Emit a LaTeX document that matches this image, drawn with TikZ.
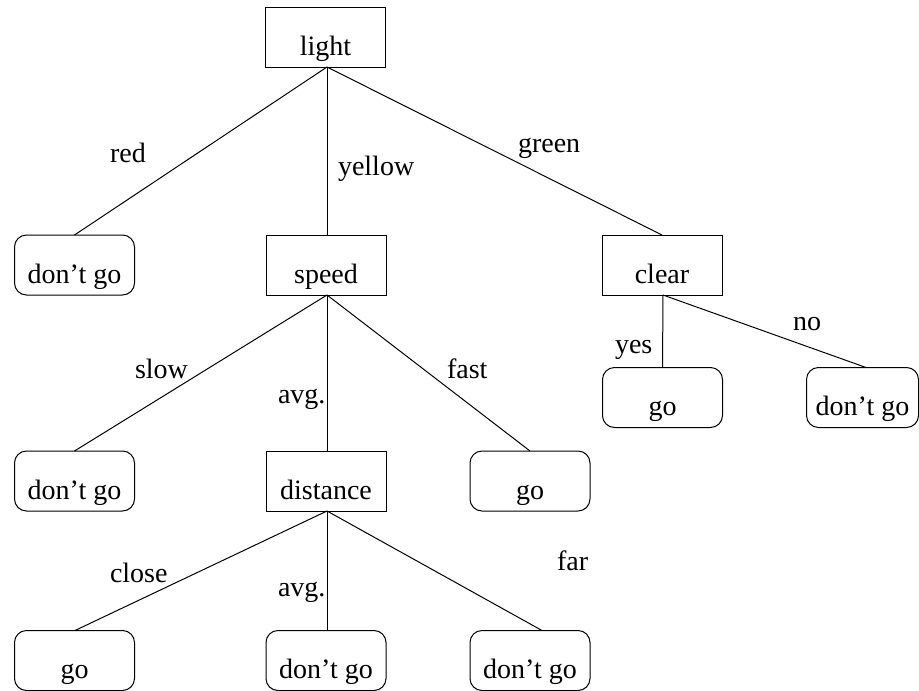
\documentclass[tikz,border=0pt]{standalone}
\usepackage{fontspec}
\setmainfont{Liberation Serif}
\begin{document}
\begin{tikzpicture}[x=1pt,y=-1pt,
  every node/.style={font=\fontsize{28}{30}\selectfont, inner sep=0pt, outer sep=0pt},
  testbox/.style={draw, line width=1pt, minimum width=120pt, minimum height=60pt},
  leafbox/.style={draw, line width=1pt, rounded corners=12pt, minimum width=120pt, minimum height=60pt},
  boxtext/.style={anchor=base},
  edgelab/.style={anchor=base west},
  conn/.style={line width=1pt}]
\useasboundingbox (0,0) rectangle (919,691);
% decision boxes
\node[testbox] (light) at (325.5,37) {};
\node[boxtext] at ([yshift=12pt]light.south) {light};
\node[testbox] (speed) at (326,265) {};
\node[boxtext] at ([yshift=12pt]speed.south) {speed};
\node[testbox] (clear) at (662,265) {};
\node[boxtext] at ([yshift=12pt]clear.south) {clear};
\node[testbox] (dist) at (326,481) {};
\node[boxtext] at ([yshift=12pt]dist.south) {distance};
% leaves
\node[leafbox] (l1) at (74.5,265) {};
\node[boxtext] at ([yshift=12pt]l1.south) {don’t go};
\node[leafbox] (l2) at (662.5,397.5) {};
\node[boxtext] at ([yshift=12pt]l2.south) {go};
\node[leafbox, minimum width=112pt] (l3) at (862.5,397.5) {};
\node[boxtext] at ([yshift=12pt]l3.south) {don’t go};
\node[leafbox] (l4) at (74.5,481) {};
\node[boxtext] at ([yshift=12pt]l4.south) {don’t go};
\node[leafbox] (l5) at (530,481) {};
\node[boxtext] at ([yshift=12pt]l5.south) {go};
\node[leafbox] (l6) at (74.5,660.5) {};
\node[boxtext] at ([yshift=12pt]l6.south) {go};
\node[leafbox] (l7) at (326,660.5) {};
\node[boxtext] at ([yshift=12pt]l7.south) {don’t go};
\node[leafbox] (l8) at (530,660.5) {};
\node[boxtext] at ([yshift=12pt]l8.south) {don’t go};
% connectors
\draw[conn] ([xshift=1.5pt]light.south) -- (l1.north);
\draw[conn] ([xshift=1.5pt]light.south) -- ([xshift=1pt]speed.north);
\draw[conn] ([xshift=1.5pt]light.south) -- (clear.north);
\draw[conn] ([xshift=1pt]clear.south) -- ([xshift=0pt]l2.north);
\draw[conn] ([xshift=1pt]clear.south) -- ([xshift=3.5pt]l3.north);
\draw[conn] ([xshift=1pt]speed.south) -- (l4.north);
\draw[conn] ([xshift=1pt]speed.south) -- ([xshift=1pt]dist.north);
\draw[conn] ([xshift=1pt]speed.south) -- (l5.north);
\draw[conn] ([xshift=1pt]dist.south) -- ([xshift=0.5pt]l6.north);
\draw[conn] ([xshift=1pt]dist.south) -- ([xshift=1pt]l7.north);
\draw[conn] ([xshift=1pt]dist.south) -- ([xshift=12pt]l8.north);
% edge labels
\node[edgelab] at (110,162) {red};
\node[edgelab] at (338,175) {yellow};
\node[edgelab] at (518,152) {green};
\node[edgelab] at (615,353) {yes};
\node[edgelab] at (793,330) {no};
\node[edgelab] at (135,378) {slow};
\node[edgelab] at (278,403) {avg.};
\node[edgelab] at (447,378) {fast};
\node[edgelab] at (110,582) {close};
\node[edgelab] at (278,596) {avg.};
\node[edgelab] at (557,570) {far};
\end{tikzpicture}
\end{document}
